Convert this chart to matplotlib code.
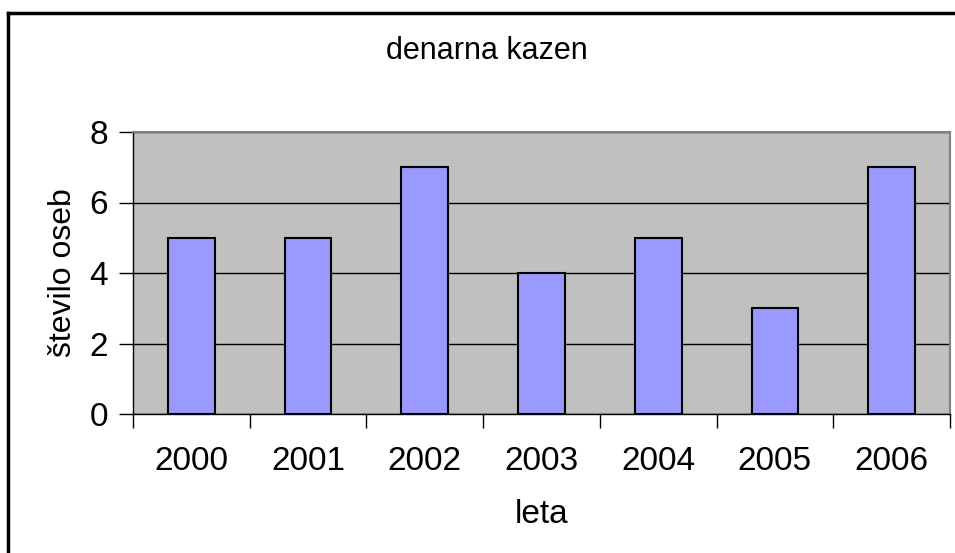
import numpy as np
import matplotlib.pyplot as plt
from matplotlib.lines import Line2D

plt.rcParams['font.family'] = ['Liberation Sans', 'DejaVu Sans']

# data
leta = ['2000', '2001', '2002', '2003', '2004', '2005', '2006']
stevilo = [5, 5, 7, 4, 5, 3, 7]

W, H = 955, 553
fig = plt.figure(figsize=(W/100, H/100), dpi=100)

# plot area in pixels: left 133, right 950, top 132, bottom 414
ax = fig.add_axes([133/W, 1 - 414/H, (950-133)/W, (414-132)/H])
ax.set_facecolor('#c0c0c0')

x = np.arange(len(leta))
ax.bar(x, stevilo, width=0.4, color='#9999ff', edgecolor='black', linewidth=1.5, zorder=3)

ax.set_xlim(-0.5, len(leta) - 0.5)
ax.set_ylim(0, 8)
ax.set_yticks([0, 2, 4, 6, 8])
ax.yaxis.grid(True, color='black', linewidth=1, zorder=1)
ax.set_axisbelow(True)

# category ticks between bars
ax.set_xticks(np.arange(-0.5, len(leta)), minor=False)
ax.set_xticklabels([])
ax.set_xticks(x, minor=True)
ax.set_xticklabels(leta, minor=True)
ax.tick_params(axis='x', which='major', direction='out', length=10, width=1, color='black')
ax.tick_params(axis='x', which='minor', length=0, labelsize=24, pad=23)
ax.tick_params(axis='y', direction='out', length=10, width=1, labelsize=24, pad=8)

for s in ['top', 'right']:
    ax.spines[s].set_color('#808080')
    ax.spines[s].set_linewidth(1.5)
for s in ['left', 'bottom']:
    ax.spines[s].set_color('black')
    ax.spines[s].set_linewidth(1)

ax.set_xlabel('leta', fontsize=24, labelpad=16)
ax.set_ylabel('število oseb', fontsize=23, labelpad=8)
fig.text(487/W, 1 - 51/H, 'denarna kazen', ha='center', va='center', fontsize=22)

# outer chart border (only top and left visible)
fig.add_artist(Line2D([8/W, 8/W], [0, 1 - 13/H], transform=fig.transFigure, color='black', linewidth=2.5))
fig.add_artist(Line2D([8/W, 1], [1 - 13/H, 1 - 13/H], transform=fig.transFigure, color='black', linewidth=2.5))

fig.savefig('out.png', dpi=100)
